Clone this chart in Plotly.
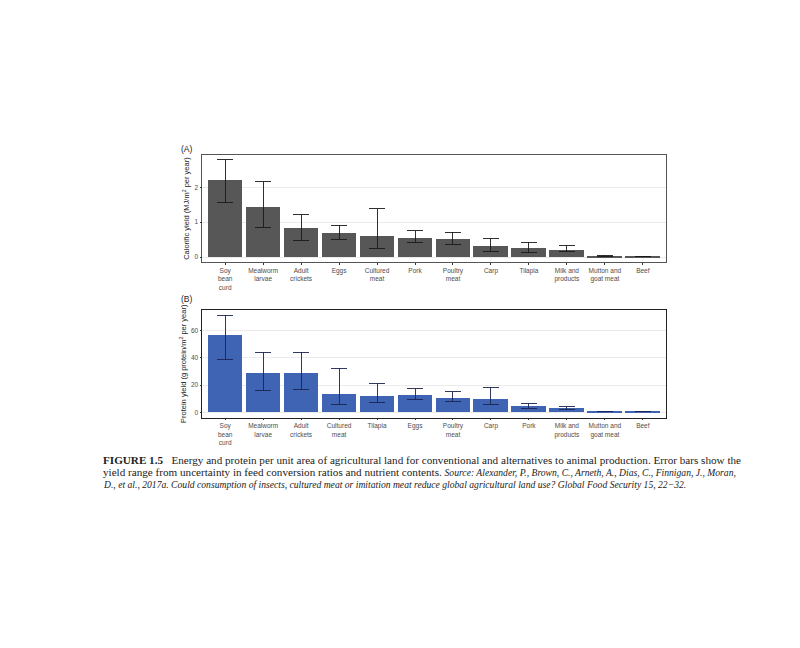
import plotly.graph_objects as go

# ---- Data ----
cats_a = ["Soy<br>bean<br>curd", "Mealworm<br>larvae", "Adult<br>crickets", "Eggs",
          "Cultured<br>meat", "Pork", "Poultry<br>meat", "Carp", "Tilapia",
          "Milk and<br>products", "Mutton and<br>goat meat", "Beef"]
val_a = [2.21, 1.44, 0.82, 0.68, 0.59, 0.54, 0.53, 0.31, 0.25, 0.21, 0.03, 0.02]
hi_a = [2.78, 2.16, 1.21, 0.91, 1.39, 0.75, 0.71, 0.53, 0.42, 0.33, 0.06, 0.03]
lo_a = [1.56, 0.85, 0.47, 0.51, 0.25, 0.43, 0.37, 0.16, 0.13, 0.16, 0.02, 0.01]

cats_b = ["Soy<br>bean<br>curd", "Mealworm<br>larvae", "Adult<br>crickets", "Cultured<br>meat",
          "Tilapia", "Eggs", "Poultry<br>meat", "Carp", "Pork",
          "Milk and<br>products", "Mutton and<br>goat meat", "Beef"]
val_b = [56.6, 29.3, 28.8, 13.8, 12.3, 12.5, 10.8, 10.1, 4.4, 3.0, 0.7, 0.5]
hi_b = [71.4, 44.3, 44.3, 32.5, 21.2, 17.2, 15.0, 18.5, 6.4, 4.2, 1.0, 0.7]
lo_b = [38.9, 16.0, 16.8, 5.9, 7.1, 9.4, 7.9, 6.1, 3.2, 2.0, 0.4, 0.3]

ticks_a = [0, 1, 2]
ticks_b = [0, 20, 40, 60]

fig = go.Figure()

fig.add_trace(go.Bar(
    x=list(range(len(cats_a))), y=val_a, width=0.9,
    marker=dict(color="#575757", line=dict(width=0)),
    error_y=dict(type="data", symmetric=False,
                 array=[h - v for h, v in zip(hi_a, val_a)],
                 arrayminus=[v - l for v, l in zip(val_a, lo_a)],
                 color="#1a1a1a", thickness=0.9, width=8),
    xaxis="x", yaxis="y", showlegend=False))

fig.add_trace(go.Bar(
    x=list(range(len(cats_b))), y=val_b, width=0.9,
    marker=dict(color="#3f64b3", line=dict(width=0)),
    error_y=dict(type="data", symmetric=False,
                 array=[h - v for h, v in zip(hi_b, val_b)],
                 arrayminus=[v - l for v, l in zip(val_b, lo_b)],
                 color="#1c2350", thickness=0.9, width=8),
    xaxis="x2", yaxis="y2", showlegend=False))

axis_font = dict(family="Liberation Sans, Arial, sans-serif", size=6.5, color="#4d4d4d")
title_font = dict(family="Liberation Sans, Arial, sans-serif", size=7.5, color="#222")


def xax(lc):
    return dict(range=[-0.6, 11.6], tickmode="array", ticks="outside", ticklen=2,
                tickcolor="#333", tickfont=axis_font, showgrid=False, zeroline=False,
                showline=True, linecolor=lc, linewidth=0.8, mirror=True, automargin=False)


def yax(lc):
    return dict(ticks="outside", ticklen=2, tickcolor="#333", tickfont=axis_font,
                showgrid=True, gridcolor="#ebebeb", gridwidth=0.8, zeroline=False,
                showline=True, linecolor=lc, linewidth=0.8, mirror=True, automargin=False)


fig.update_layout(
    width=800, height=648,
    margin=dict(l=0, r=0, t=0, b=0),
    paper_bgcolor="white", plot_bgcolor="white",
    bargap=0,
    xaxis=dict(domain=[0.243, 0.822], anchor="y",
               tickvals=list(range(len(cats_a))), ticktext=cats_a, **xax("#555")),
    yaxis=dict(domain=[0.608, 0.773], anchor="x", range=[-0.14, 2.92],
               tickvals=ticks_a, ticktext=[str(t) for t in ticks_a],
               title=dict(text="Calorific yield (MJ/m<sup>2</sup> per year)",
                          font=title_font, standoff=3),
               **yax("#555")),
    xaxis2=dict(domain=[0.243, 0.822], anchor="y2",
                tickvals=list(range(len(cats_b))), ticktext=cats_b, **xax("#222")),
    yaxis2=dict(domain=[0.368, 0.534], anchor="x2", range=[-3.8, 75.3],
                tickvals=ticks_b, ticktext=[str(t) for t in ticks_b],
                title=dict(text="Protein yield (g protein/m<sup>2</sup> per year)",
                           font=title_font, standoff=3),
                **yax("#222")),
)

lbl_font = dict(family="Liberation Sans, Arial, sans-serif", size=8.5, color="#222")
fig.add_annotation(text="(A)", x=0.214, y=1 - 141 / 648, xref="paper", yref="paper",
                   showarrow=False, xanchor="left", yanchor="middle", font=lbl_font)
fig.add_annotation(text="(B)", x=0.214, y=1 - 291 / 648, xref="paper", yref="paper",
                   showarrow=False, xanchor="left", yanchor="middle", font=lbl_font)

cap_font = dict(family="Liberation Serif, Times New Roman, serif", size=11.15, color="#222")
IT = '<span style="font-size:9.65px"><i>'
IE = '</i></span>'
lines = [
    "<b>FIGURE 1.5</b>   Energy and protein per unit area of agricultural land for conventional and alternatives to animal production. Error bars show the",
    "yield range from uncertainty in feed conversion ratios and nutrient contents. " + IT + "Source: Alexander, P., Brown, C., Arneth, A., Dias, C., Finnigan, J., Moran," + IE,
    IT + "D., et al., 2017a. Could consumption of insects, cultured meat or imitation meat reduce global agricultural land use? Global Food Security 15, 22\u221232." + IE,
]
ys = [452.3, 464.3, 476.5]
for ln, yy in zip(lines, ys):
    fig.add_annotation(text=ln, x=93 / 800, y=1 - yy / 648,
                       xref="paper", yref="paper", showarrow=False,
                       xanchor="left", yanchor="middle", font=cap_font)

fig.write_html("out.html")
